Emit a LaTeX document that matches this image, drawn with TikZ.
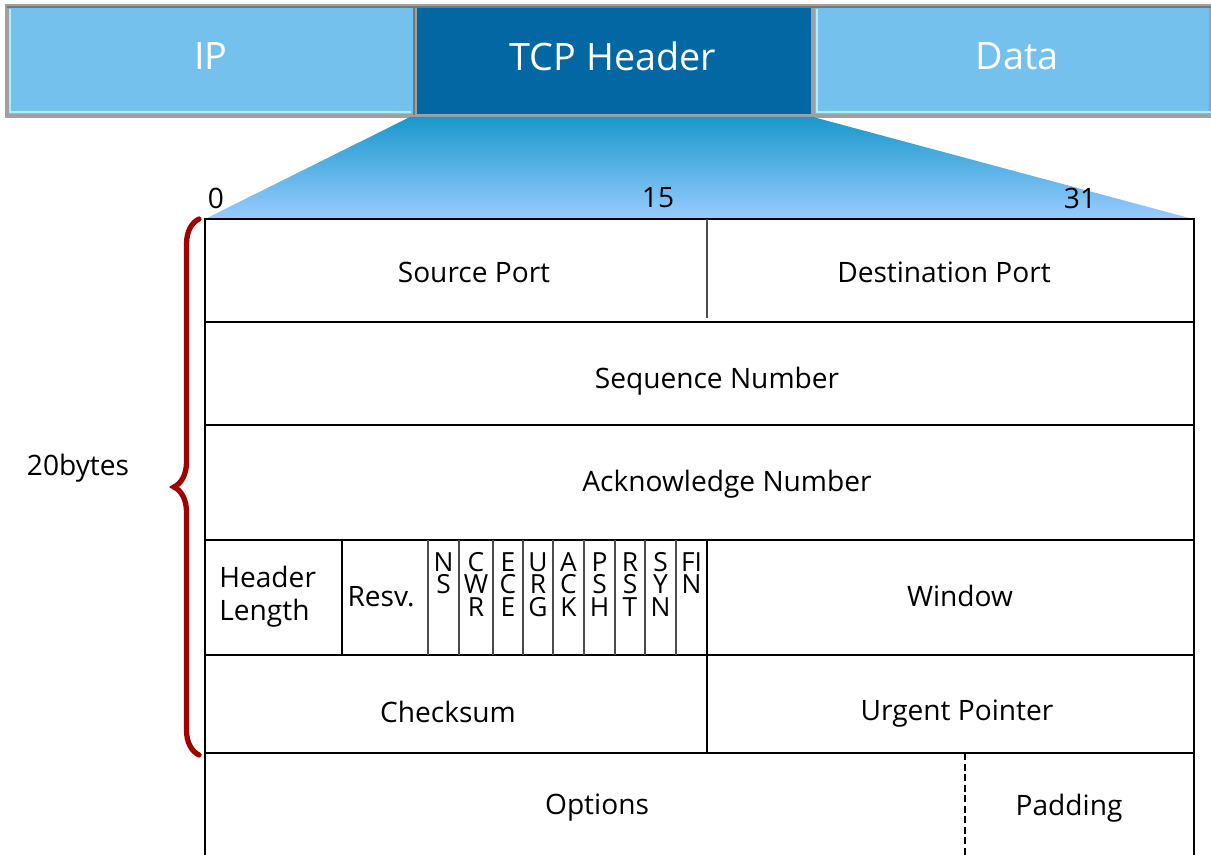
\documentclass[tikz,border=0pt]{standalone}
\usepackage{fontspec}
\setmainfont{Open Sans}
\usepackage{tikz}
\usetikzlibrary{decorations.pathreplacing, calc}
\definecolor{pktlight}{RGB}{115, 193, 236}
\definecolor{pktdark}{RGB}{2, 103, 163}
\definecolor{pktedge}{RGB}{120, 120, 124}
\definecolor{pktshine}{RGB}{170, 240, 255}
\definecolor{zoomtop}{RGB}{26, 152, 204}
\definecolor{zoombot}{RGB}{153, 204, 255}
\definecolor{bracered}{RGB}{160, 0, 0}

\tikzset{
  pktbox/.style={fill=#1, draw=pktedge!70, line width=2pt},
  pktlabel/.style={text=white, font=\fontsize{21.5}{24}\selectfont},
  field/.style={font=\fontsize{16}{19}\selectfont, inner sep=0pt},
  flag/.style={font=\fontsize{15}{12.8}\selectfont, align=center, anchor=north, inner sep=0pt},
  grid/.style={line width=0.8pt},
  flagline/.style={gray!60!black, line width=0.7pt}
}

\begin{document}
\begin{tikzpicture}[x=0.02cm, y=-0.02cm]
    \useasboundingbox (0,0) rectangle (1211,855);

    % encapsulation bar
    \draw[pktbox=pktlight] (7,6) rectangle (415,116);
    \draw[pktbox=pktdark] (415,6) rectangle (813,116);
    \draw[pktbox=pktlight] (813,6) rectangle (1211,116);
    \draw[pktshine, line width=0.8pt] (10,9) -- (10,112) -- (411,112);
    \draw[pktshine, line width=0.8pt] (817,9) -- (817,112) -- (1211,112);
    \draw[pktedge, line width=1.5pt] (7,7) -- (1211,7);
    \draw[pktedge, line width=1.5pt] (414,7) -- (414,115);
    \node[pktlabel] (ip) at (211,56) {IP};
    \node[pktlabel] (tcp) at (613,56) {TCP Header};
    \node[pktlabel] (data) at (1017,56) {Data};

    % zoom into the header
    \shade[top color=zoomtop, bottom color=zoombot] (410,117) -- (813,117) -- (1193,219) -- (205,219) -- cycle;

    % bit positions
    \node[field] (bit0) at (216,198) {0};
    \node[field] (bit15) at (658,198) {15};
    \node[field] (bit31) at (1080,198) {31};

    % header grid
    \fill[white] (205,219) rectangle (1194,855);
    \draw[grid] (205,855) -- (205,219) -- (1194,219) -- (1194,855);
    \foreach \y in {322, 425, 540, 655, 753}
      \draw[grid] (205,\y) -- (1194,\y);
    \draw[flagline] (707,219) -- (707,318);
    \draw[grid] (342,540) -- (342,655);
    \draw[grid] (707,540) -- (707,753);
    \draw[grid, dashed, dash pattern=on 4pt off 2pt, line width=0.6pt] (965,753) -- (965,855);

    % flag bits
    \foreach \xl/\xr/\lbl [count=\i] in {428/459/{N\\S}, 459/493/{C\\W\\R}, 493/523/{E\\C\\E},
        523/553/{U\\R\\G}, 553/584/{A\\C\\K}, 584/615/{P\\S\\H}, 615/645/{R\\S\\T},
        645/676/{S\\Y\\N}, 676/707/{FI\\N}} {
      \draw[flagline] (\xl,540) -- (\xl,655);
      \node[flag] (flag\i) at ({(\xl+\xr)/2},552) {\lbl};
    }

    % field names
    \node[field] (srcport) at (474,272) {Source Port};
    \node[field] (dstport) at (944,272) {Destination Port};
    \node[field] (seqnum) at (717,381) {Sequence Number};
    \node[field] (acknum) at (727,484) {Acknowledge Number};
    \node[field, align=left, anchor=west] (hdrlen) at (219,597) {Header\\Length};
    \node[field] (resv) at (381,597) {Resv.};
    \node[field] (window) at (960,596) {Window};
    \node[field] (checksum) at (448,712) {Checksum};
    \node[field] (urgptr) at (957,714) {Urgent Pointer};
    \node[field] (options) at (597,808) {Options};
    \node[field] (padding) at (1069,808) {Padding};

    % length of the fixed part
    \draw[bracered, line width=3pt, line cap=round, decorate,
          decoration={brace, amplitude=0.5cm}] (199,755) -- (199,219);
    \node[field] (bytes) at (78,468) {20bytes};
  \end{tikzpicture}
\end{document}
